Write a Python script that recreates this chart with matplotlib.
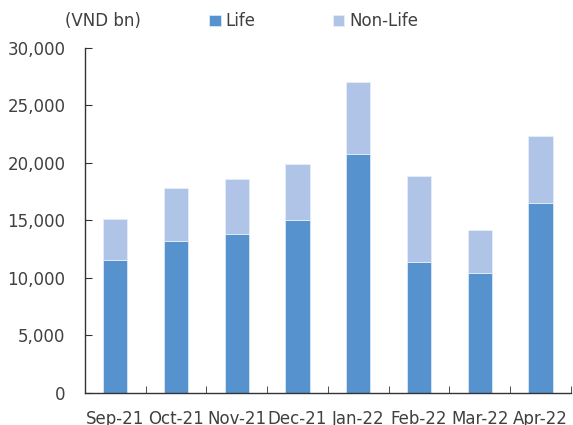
import numpy as np
import matplotlib
matplotlib.use("Agg")
import matplotlib.pyplot as plt
from matplotlib.ticker import FuncFormatter, MultipleLocator

months = ["Sep-21", "Oct-21", "Nov-21", "Dec-21", "Jan-22", "Feb-22", "Mar-22", "Apr-22"]
life = [11600, 13200, 13800, 15000, 20800, 11400, 10400, 16500]
non_life = [3550, 4600, 4800, 4950, 6200, 7500, 3800, 5800]

plt.rcParams['font.family'] = ['DejaVu Sans']
txt = '#404040'

fig = plt.figure(figsize=(5.73, 4.25), dpi=100)
ax = fig.add_axes([0.148, 0.0753, 0.8485, 0.812])

x = np.arange(len(months))
ax.bar(x, life, width=0.4, color='#5592CE', edgecolor='#dce8f5', linewidth=0.6, label='Life')
ax.bar(x, non_life, width=0.4, bottom=life, color='#AFC4E6', edgecolor='#e6eef8',
       linewidth=0.6, label='Non-Life')

ax.set_xlim(-0.5, len(months) - 0.5)
ax.set_ylim(0, 30000)
ax.yaxis.set_major_locator(MultipleLocator(5000))
ax.yaxis.set_major_formatter(FuncFormatter(lambda v, p: f"{int(v):,}"))

ax.set_xticks(x)
ax.set_xticklabels(months)
ax.set_xticks(np.arange(-0.5, len(months)), minor=True)
ax.tick_params(axis='x', which='major', length=0, pad=12, labelsize=12, labelcolor=txt)
ax.tick_params(axis='x', which='minor', direction='in', length=5, color='#333333')
ax.tick_params(axis='y', direction='in', length=5, pad=14, labelsize=12, labelcolor=txt,
               color='#333333')

for s in ['top', 'right']:
    ax.spines[s].set_visible(False)
for s in ['left', 'bottom']:
    ax.spines[s].set_color('#333333')
    ax.spines[s].set_linewidth(1.0)

fig.text(0.179, 0.95, "(VND bn)", fontsize=12, color=txt, ha='center', va='center')
ax.legend(loc='upper left', bbox_to_anchor=(0.225, 1.147), ncol=2, frameon=False,
          fontsize=12, labelcolor=txt, handlelength=0.7, handleheight=0.7,
          handletextpad=0.3, columnspacing=4.6)

fig.savefig("out.png", dpi=100)
